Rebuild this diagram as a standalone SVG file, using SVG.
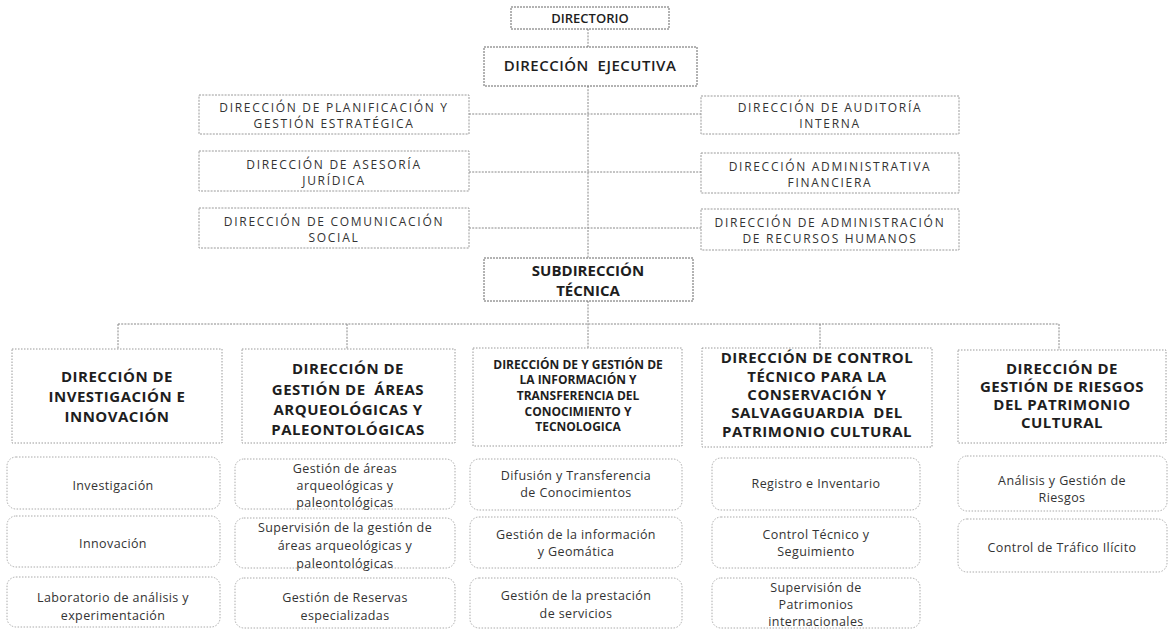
<svg xmlns="http://www.w3.org/2000/svg" width="1169" height="630" viewBox="0 0 1169 630">
<style>
.bg{fill:#fff}
.bs{fill:#fff;stroke:#666;stroke-width:1;stroke-dasharray:2 1}
.bm{fill:#fff;stroke:#9a9a9a;stroke-width:1;stroke-dasharray:2 1.2}
.bh{fill:#fff;stroke:#9a9a9a;stroke-width:1;stroke-dasharray:1.5 1.5}
.bsub{fill:#fff;stroke:#aaa;stroke-width:1;stroke-dasharray:1.5 1.5}
.cn{fill:none;stroke:#888;stroke-width:1;stroke-dasharray:2 1.2}
text{font-family:"Open Sans","Noto Sans","DejaVu Sans",sans-serif;text-anchor:middle;fill:#1e1e1e}
.tt{font-size:13px;font-weight:600}
.te{font-size:15px;font-weight:600;letter-spacing:0.5px}
.tb{font-size:15px;font-weight:700}
.ts{font-size:12px;font-weight:400;letter-spacing:1.7px;fill:#333}
.th{font-size:15px;font-weight:700;letter-spacing:0.5px}
.th2{font-size:12px;font-weight:700}
.tu{font-size:12.5px;font-weight:400;letter-spacing:0.4px;fill:#333}
</style>
<rect class="bg" x="0" y="0" width="1169" height="630"/>
<g id="connectors">
<path class="cn" d="M588 29V47M588 86V258M469 114H701M469 172H701M469 228H701M588 301V348M118 324H1059M118 324V349M347 324V349M820 324V348M1059 324V350"/>
</g>
<g id="directorio"><rect class="bs" x="511" y="7" width="158" height="22"/><text class="tt" x="590" y="23">DIRECTORIO</text></g>
<g id="ejecutiva"><rect class="bs" x="484" y="47" width="213" height="39"/><text class="te" x="590" y="71" xml:space="preserve">DIRECCIÓN  EJECUTIVA</text></g>
<g id="planificacion"><rect class="bm" x="199" y="95" width="270" height="39"/><text class="ts" x="334" y="112">DIRECCIÓN DE PLANIFICACIÓN Y</text><text class="ts" x="334" y="128">GESTIÓN ESTRATÉGICA</text></g>
<g id="auditoria"><rect class="bm" x="701" y="96" width="258" height="38"/><text class="ts" x="830" y="112">DIRECCIÓN DE AUDITORÍA</text><text class="ts" x="830" y="128">INTERNA</text></g>
<g id="asesoria"><rect class="bm" x="199" y="151" width="270" height="40"/><text class="ts" x="334" y="169">DIRECCIÓN DE ASESORÍA</text><text class="ts" x="334" y="185">JURÍDICA</text></g>
<g id="administrativa"><rect class="bm" x="701" y="153" width="258" height="40"/><text class="ts" x="830" y="171">DIRECCIÓN ADMINISTRATIVA</text><text class="ts" x="830" y="187">FINANCIERA</text></g>
<g id="comunicacion"><rect class="bm" x="199" y="208" width="270" height="40"/><text class="ts" x="334" y="226">DIRECCIÓN DE COMUNICACIÓN</text><text class="ts" x="334" y="242">SOCIAL</text></g>
<g id="rrhh"><rect class="bm" x="701" y="209" width="258" height="41"/><text class="ts" x="830" y="227">DIRECCIÓN DE ADMINISTRACIÓN</text><text class="ts" x="830" y="243">DE RECURSOS HUMANOS</text></g>
<g id="subdireccion"><rect class="bs" x="484" y="258" width="209" height="43"/><text class="tb" x="588" y="276">SUBDIRECCIÓN</text><text class="tb" x="588" y="296">TÉCNICA</text></g>
<g id="investigacion-innovacion"><rect class="bh" x="12" y="349" width="210" height="94"/><text class="th" x="117" y="382">DIRECCIÓN DE</text><text class="th" x="117" y="402">INVESTIGACIÓN E</text><text class="th" x="117" y="422">INNOVACIÓN</text></g>
<g id="areas-arqueologicas"><rect class="bh" x="242" y="349" width="213" height="94"/><text class="th" x="348" y="374">DIRECCIÓN DE</text><text class="th" x="348" y="395" xml:space="preserve">GESTIÓN DE  ÁREAS</text><text class="th" x="348" y="415">ARQUEOLÓGICAS Y</text><text class="th" x="348" y="435">PALEONTOLÓGICAS</text></g>
<g id="informacion"><rect class="bh" x="473" y="348" width="209" height="98"/><text class="th2" x="578" y="369">DIRECCIÓN DE Y GESTIÓN DE</text><text class="th2" x="578" y="384">LA INFORMACIÓN Y</text><text class="th2" x="578" y="400">TRANSFERENCIA DEL</text><text class="th2" x="578" y="416">CONOCIMIENTO Y</text><text class="th2" x="578" y="431">TECNOLOGICA</text></g>
<g id="control-tecnico"><rect class="bh" x="702" y="348" width="230" height="99"/><text class="th" x="817" y="363">DIRECCIÓN DE CONTROL</text><text class="th" x="817" y="382">TÉCNICO PARA LA</text><text class="th" x="817" y="400">CONSERVACIÓN Y</text><text class="th" x="817" y="418" xml:space="preserve">SALVAGGUARDIA  DEL</text><text class="th" x="817" y="437">PATRIMONIO CULTURAL</text></g>
<g id="riesgos"><rect class="bh" x="958" y="350" width="208" height="93"/><text class="th" x="1062" y="374">DIRECCIÓN DE</text><text class="th" x="1062" y="392">GESTIÓN DE RIESGOS</text><text class="th" x="1062" y="410">DEL PATRIMONIO</text><text class="th" x="1062" y="428">CULTURAL</text></g>
<g id="investigacion"><rect class="bsub" x="7" y="457" width="213" height="52" rx="9"/><text class="tu" x="113" y="490">Investigación</text></g>
<g id="innovacion"><rect class="bsub" x="7" y="516" width="213" height="51" rx="9"/><text class="tu" x="113" y="548">Innovación</text></g>
<g id="laboratorio"><rect class="bsub" x="7" y="577" width="213" height="50" rx="9"/><text class="tu" x="113" y="602">Laboratorio de análisis y</text><text class="tu" x="113" y="620">experimentación</text></g>
<g id="gestion-areas"><rect class="bsub" x="235" y="459" width="220" height="50" rx="9"/><text class="tu" x="345" y="473">Gestión de áreas</text><text class="tu" x="345" y="490">arqueológicas y</text><text class="tu" x="345" y="507">paleontológicas</text></g>
<g id="supervision-areas"><rect class="bsub" x="235" y="518" width="220" height="50" rx="9"/><text class="tu" x="345" y="532">Supervisión de la gestión de</text><text class="tu" x="345" y="550">áreas arqueológicas y</text><text class="tu" x="345" y="568">paleontológicas</text></g>
<g id="reservas"><rect class="bsub" x="235" y="578" width="220" height="50" rx="9"/><text class="tu" x="345" y="602">Gestión de Reservas</text><text class="tu" x="345" y="620">especializadas</text></g>
<g id="difusion"><rect class="bsub" x="470" y="459" width="212" height="51" rx="9"/><text class="tu" x="576" y="480">Difusión y Transferencia</text><text class="tu" x="576" y="497">de Conocimientos</text></g>
<g id="geomatica"><rect class="bsub" x="470" y="517" width="212" height="51" rx="9"/><text class="tu" x="576" y="539">Gestión de la información</text><text class="tu" x="576" y="556">y Geomática</text></g>
<g id="servicios"><rect class="bsub" x="470" y="578" width="212" height="50" rx="9"/><text class="tu" x="576" y="600">Gestión de la prestación</text><text class="tu" x="576" y="618">de servicios</text></g>
<g id="registro"><rect class="bsub" x="712" y="458" width="208" height="52" rx="9"/><text class="tu" x="816" y="488">Registro e Inventario</text></g>
<g id="seguimiento"><rect class="bsub" x="712" y="517" width="208" height="51" rx="9"/><text class="tu" x="816" y="539">Control Técnico y</text><text class="tu" x="816" y="556">Seguimiento</text></g>
<g id="patrimonios"><rect class="bsub" x="712" y="578" width="208" height="50" rx="9"/><text class="tu" x="816" y="592">Supervisión de</text><text class="tu" x="816" y="609">Patrimonios</text><text class="tu" x="816" y="626">internacionales</text></g>
<g id="analisis-riesgos"><rect class="bsub" x="958" y="456" width="209" height="55" rx="9"/><text class="tu" x="1062" y="485">Análisis y Gestión de</text><text class="tu" x="1062" y="502">Riesgos</text></g>
<g id="trafico"><rect class="bsub" x="958" y="519" width="209" height="53" rx="9"/><text class="tu" x="1062" y="552">Control de Tráfico Ilícito</text></g>
</svg>
